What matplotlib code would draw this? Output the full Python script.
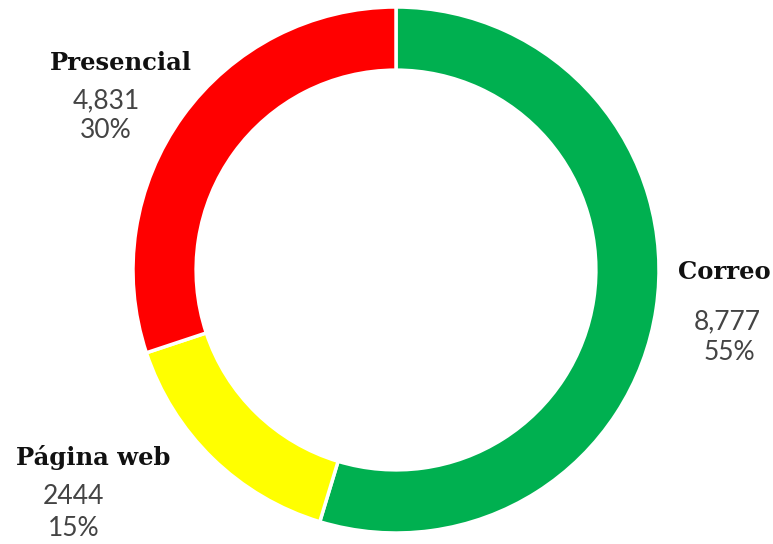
import matplotlib.pyplot as plt

categories = ['Correo', 'Página web', 'Presencial']
values = [8777, 2444, 4831]
value_labels = ['8,777', '2444', '4,831']
pct_labels = ['55%', '15%', '30%']
colors = ['#00B050', '#FFFF00', '#FF0000']

W, H = 773, 544
fig = plt.figure(figsize=(W / 100, H / 100), dpi=100)
ax = fig.add_axes([133 / W, 11 / H, 526 / W, 526 / H])
ax.pie(values, colors=colors, startangle=90, counterclock=False, radius=1,
       wedgeprops=dict(width=0.24, edgecolor='white', linewidth=2.5))
ax.set_xlim(-1, 1)
ax.set_ylim(-1, 1)
ax.set_aspect('equal')
ax.axis('off')

# label positions in pixels (x, y from top): name, value, percent
pos = {
    'Correo': ((724, 272), (727, 322), (729, 353)),
    'Página web': ((93, 457), (74, 497), (74, 529)),
    'Presencial': ((121, 63), (106, 101), (106, 131)),
}

for cat, v, p in zip(categories, value_labels, pct_labels):
    (nx, ny), (vx, vy), (px, py) = pos[cat]
    fig.text(nx / W, 1 - ny / H, cat, ha='center', va='center',
             fontsize=17.5, fontweight='bold', family='DejaVu Serif', color='#111111')
    fig.text(vx / W, 1 - vy / H, v, ha='center', va='center',
             fontsize=19, fontweight='normal', family='Lato', color='#444444')
    fig.text(px / W, 1 - py / H, p, ha='center', va='center',
             fontsize=19, fontweight='normal', family='Lato', color='#444444')

fig.savefig('out.png', dpi=100, facecolor='white')
